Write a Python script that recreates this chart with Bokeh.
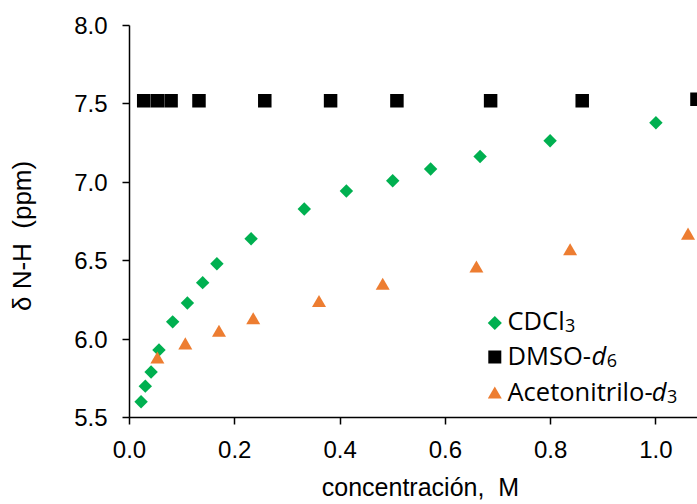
import math
from bokeh.plotting import figure
from bokeh.models import Range1d, FixedTicker, PrintfTickFormatter, Label, ColumnDataSource
from bokeh.embed import file_html
from bokeh.resources import INLINE

# ---- data ----
cdcl3_x = [0.022, 0.030, 0.041, 0.056, 0.082, 0.110, 0.139, 0.166, 0.231, 0.332, 0.412, 0.500, 0.572, 0.666, 0.799, 1.000]
cdcl3_y = [5.60, 5.70, 5.79, 5.93, 6.11, 6.23, 6.36, 6.48, 6.64, 6.83, 6.945, 7.01, 7.085, 7.165, 7.265, 7.38]

dmso_x = [0.027, 0.053, 0.079, 0.132, 0.257, 0.382, 0.508, 0.686, 0.860, 1.078]
dmso_y = [7.52, 7.52, 7.52, 7.52, 7.52, 7.52, 7.52, 7.52, 7.52, 7.53]

acn_x = [0.053, 0.106, 0.170, 0.235, 0.360, 0.481, 0.659, 0.837, 1.061]
acn_y = [5.87, 5.96, 6.04, 6.12, 6.23, 6.34, 6.45, 6.56, 6.66]

x_ticks = [0.0, 0.2, 0.4, 0.6, 0.8, 1.0]
y_ticks = [5.5, 6.0, 6.5, 7.0, 7.5, 8.0]

x_title = "\u00a0\u00a0concentraci\u00f3n,\u00a0 M"
y_title = "\u03b4 N-H\u00a0 (ppm)" + "\u00a0" * 4

GREEN = "#00B050"
BLACK = "#000000"
ORANGE = "#ED7D31"

FRAME_W = 568
FRAME_H = 392

p = figure(width=697, height=504, output_backend="svg", toolbar_location=None,
           x_range=Range1d(0, 1.079), y_range=Range1d(5.5, 8.0),
           min_border_left=129, min_border_right=0, min_border_top=25, min_border_bottom=87)
p.outline_line_color = None
p.grid.visible = False
p.background_fill_color = "white"
p.border_fill_color = "white"

for ax in (p.xaxis[0], p.yaxis[0]):
    ax.axis_line_color = BLACK
    ax.axis_line_width = 1.5
    ax.major_tick_line_color = BLACK
    ax.major_tick_line_width = 1.5
    ax.major_tick_in = 0
    ax.major_tick_out = 7
    ax.minor_tick_line_color = None
    ax.major_label_text_font = "Liberation Sans"
    ax.major_label_text_font_size = "24px"
    ax.major_label_text_color = BLACK
    ax.formatter = PrintfTickFormatter(format="%.1f")
    ax.axis_label_text_font = "Liberation Sans"
    ax.axis_label_text_font_style = "normal"
    ax.axis_label_text_color = BLACK

p.xaxis[0].ticker = FixedTicker(ticks=x_ticks)
p.yaxis[0].ticker = FixedTicker(ticks=y_ticks)
p.xaxis[0].major_label_standoff = 16
p.yaxis[0].major_label_standoff = 15
p.xaxis[0].axis_label = x_title
p.yaxis[0].axis_label = y_title
p.xaxis[0].axis_label_text_font_size = "25px"
p.yaxis[0].axis_label_text_font_size = "26px"
p.xaxis[0].axis_label_standoff = 12
p.yaxis[0].axis_label_standoff = 34

# data series (draw order: CDCl3, DMSO, acetonitrile)
p.scatter(cdcl3_x, cdcl3_y, marker="square", size=9.5, angle=math.pi / 4,
          fill_color=GREEN, line_color=None)
p.scatter(dmso_x, dmso_y, marker="square", size=13.5, fill_color=BLACK, line_color=None)
p.scatter(acn_x, acn_y, marker="triangle", size=14, fill_color=ORANGE, line_color=None)

# legend (keys in frame-pixel coordinates, text as labels)
p.extra_x_ranges = {"px": Range1d(0, FRAME_W)}
p.extra_y_ranges = {"py": Range1d(0, FRAME_H)}
key_src = ColumnDataSource(dict(
    x=[365.3, 365.3, 365.3],
    y=[94.5, 60.5, 23.0],
    marker=["square", "square", "triangle"],
    size=[10, 13, 14],
    angle=[math.pi / 4, 0, 0],
    color=[GREEN, BLACK, ORANGE],
))
p.scatter("x", "y", marker="marker", size="size", angle="angle", fill_color="color",
          line_color=None, source=key_src, x_range_name="px", y_range_name="py")

LEG_FONT = "Open Sans"
MAIN = "25.5px"
SUB = "18px"
pieces = [
    ("CDCl", 378, 97.7, MAIN, "normal"),
    ("3", 435.5, 92, SUB, "normal"),
    ("DMSO-", 378, 62.5, MAIN, "normal"),
    ("d", 462, 62.5, MAIN, "italic"),
    ("6", 477.3, 57, SUB, "normal"),
    ("Acetonitrilo-", 378, 26.7, MAIN, "normal"),
    ("d", 522.2, 26.7, MAIN, "italic"),
    ("3", 537.5, 21, SUB, "normal"),
]
for txt, x, y, fs, style in pieces:
    p.add_layout(Label(x=x, y=y, x_units="screen", y_units="screen", text=txt,
                       text_font=LEG_FONT, text_font_size=fs, text_font_style=style,
                       text_align="left", text_baseline="alphabetic", text_color=BLACK))

open("out.html", "w").write(file_html(p, INLINE))
